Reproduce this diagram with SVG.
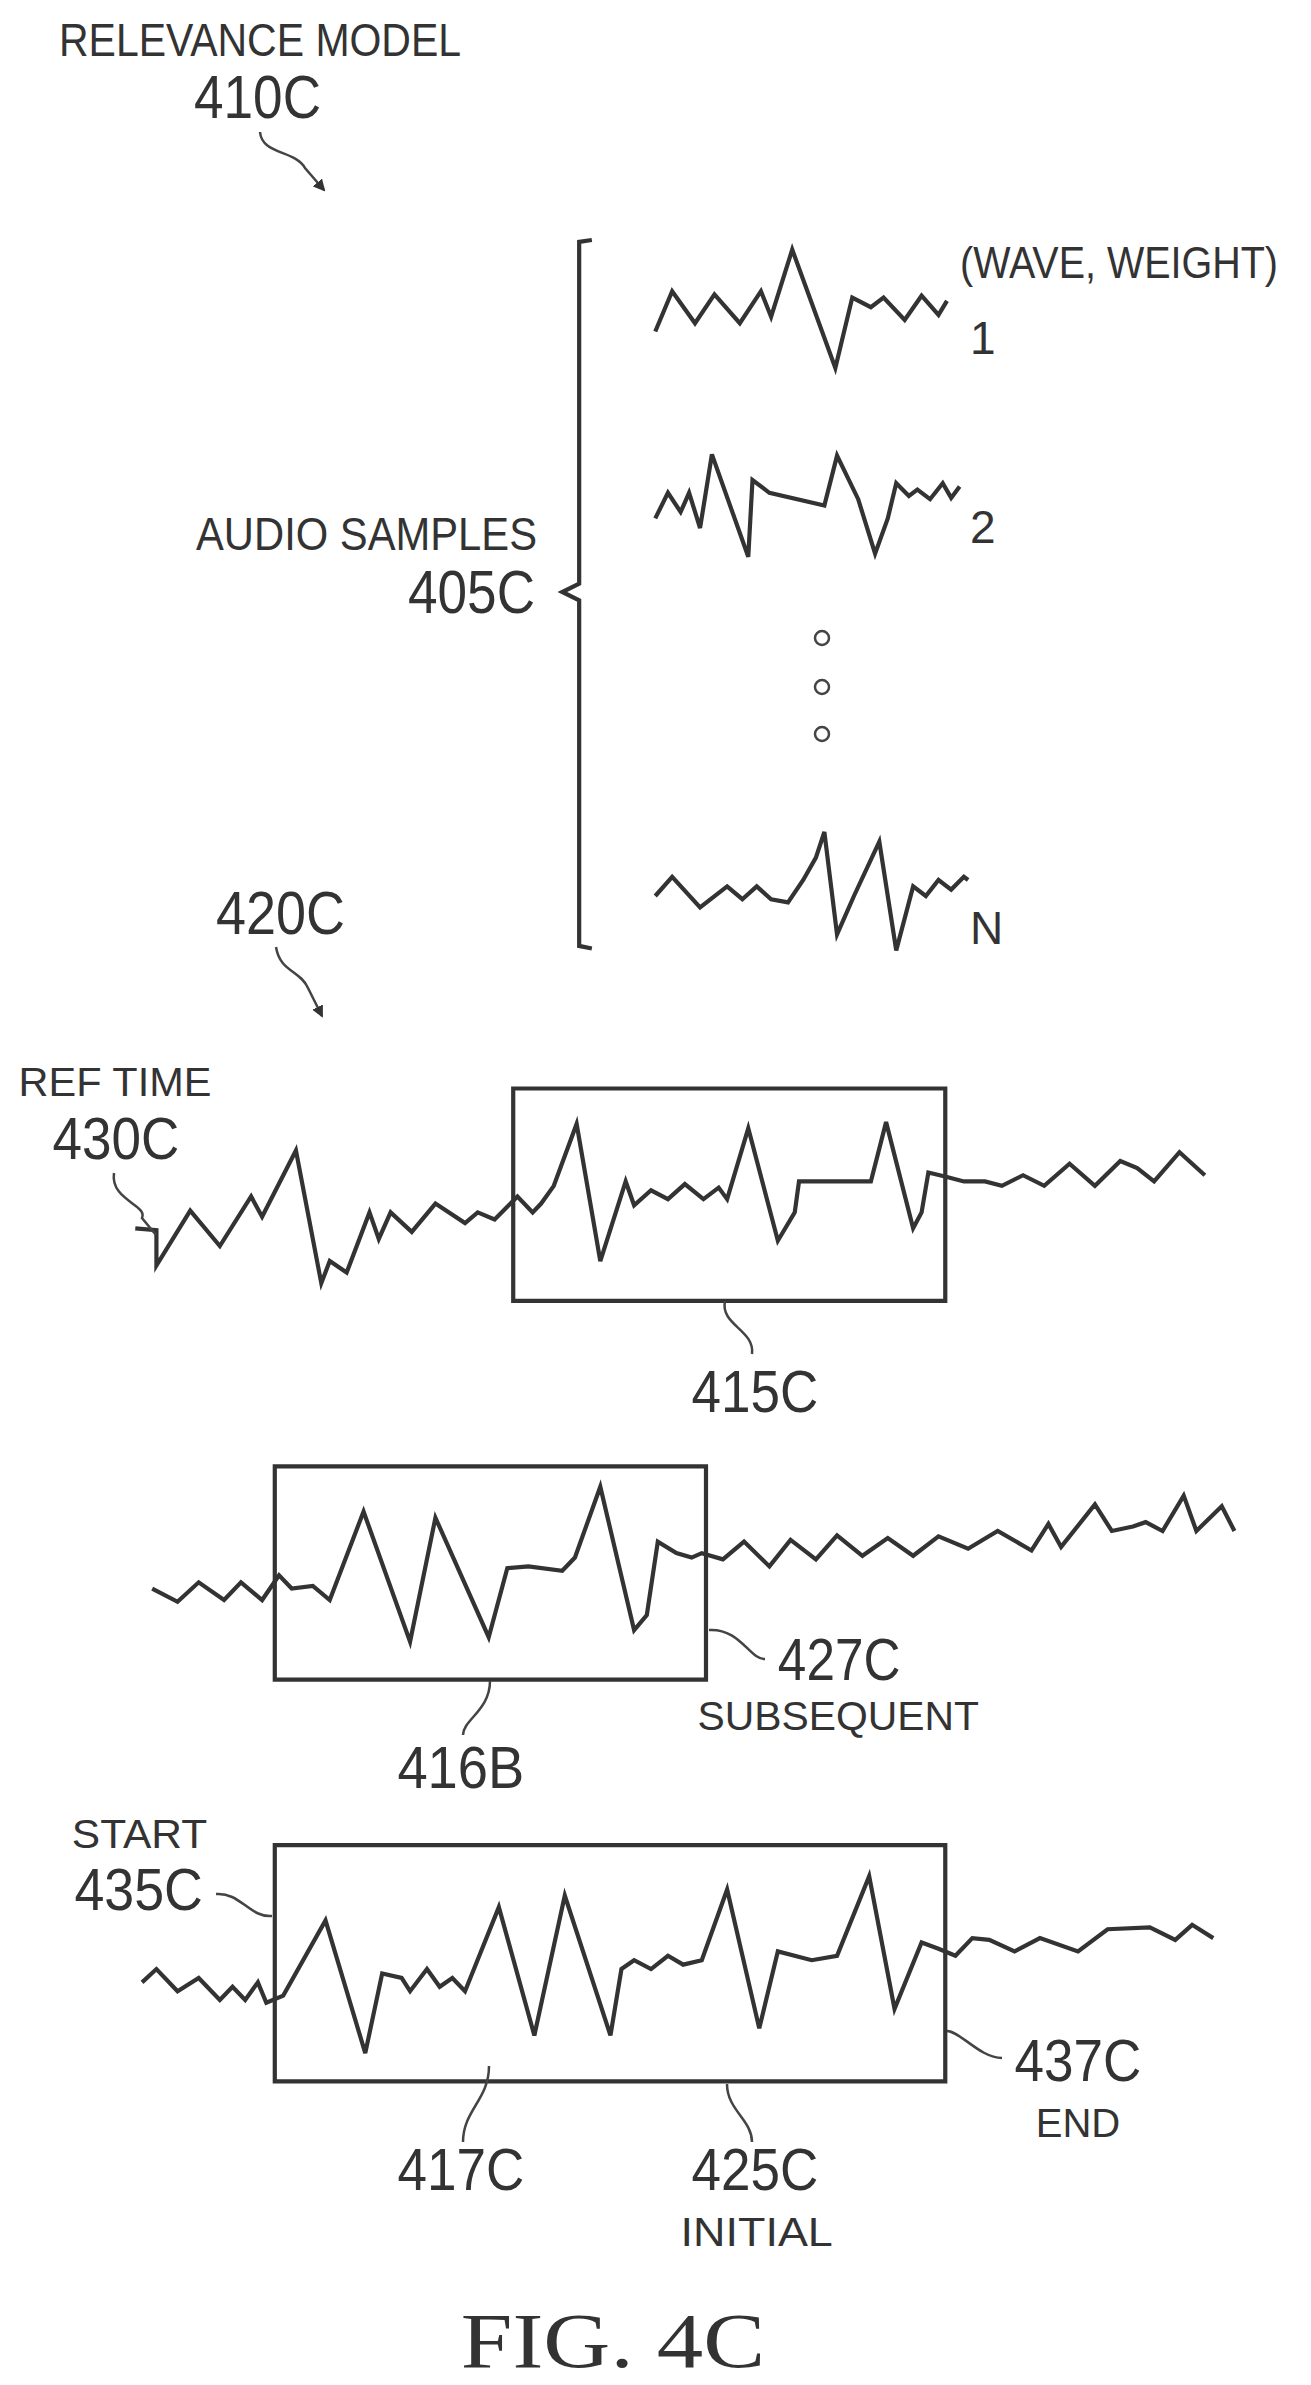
<svg xmlns="http://www.w3.org/2000/svg" width="1311" height="2385" viewBox="0 0 1311 2385">
<style>
.w{fill:none;stroke:#333;stroke-width:4.2;stroke-linejoin:miter;vector-effect:non-scaling-stroke}
.l{fill:none;stroke:#444;stroke-width:2.5}
.t{font-family:"Liberation Sans",Arial,sans-serif;fill:#333}
.f{font-family:"Liberation Serif","Times New Roman",serif;fill:#333}
</style>
<defs><marker id="ah" markerWidth="12" markerHeight="12" refX="10" refY="6" orient="auto" markerUnits="userSpaceOnUse"><path d="M0,0 L12,6 L0,12 z" fill="#333"/></marker></defs>
<rect width="1311" height="2385" fill="#fff"/>
<g id="n410c"><text class="t" x="59" y="56" font-size="46" textLength="402" lengthAdjust="spacingAndGlyphs">RELEVANCE MODEL</text>
<text class="t" x="194" y="118" font-size="62" textLength="127" lengthAdjust="spacingAndGlyphs">410C</text></g>
<g id="n405c"><text class="t" x="196" y="550" font-size="46" textLength="341" lengthAdjust="spacingAndGlyphs">AUDIO SAMPLES</text>
<text class="t" x="408" y="613" font-size="62" textLength="127" lengthAdjust="spacingAndGlyphs">405C</text></g>
<g id="samples">
<text class="t" x="960" y="278" font-size="44" textLength="318" lengthAdjust="spacingAndGlyphs">(WAVE, WEIGHT)</text>
<text class="t" x="970" y="354" font-size="46">1</text>
<text class="t" x="970" y="543" font-size="46">2</text>
<text class="t" x="970" y="944" font-size="46">N</text>
<circle cx="822" cy="638" r="7" class="l"/><circle cx="822" cy="687" r="7" class="l"/><circle cx="822" cy="734" r="7" class="l"/>
<g transform="scale(0.8455,0.64)">
<path class="w" d="M700,375 L685,378 L685,912 L665,925 L685,938 L685,1478 L700,1482"/>
<polyline class="w" points="775,518 795,455 822,505 845,460 875,505 900,455 912,495 937,390 988,575 1008,465 1030,480 1045,465 1070,500 1090,462 1110,492 1120,470"/>
<polyline class="w" points="775,810 790,770 805,800 815,770 828,825 842,710 885,870 890,750 910,770 975,790 990,712 1015,780 1035,865 1050,810 1060,755 1075,775 1085,765 1100,780 1115,755 1125,778 1135,760"/>
<polyline class="w" points="775,1400 795,1370 828,1418 860,1385 878,1405 895,1385 912,1405 932,1410 950,1375 965,1340 975,1300 990,1460 1010,1400 1040,1315 1060,1485 1080,1385 1095,1400 1110,1375 1125,1390 1140,1370 1145,1375"/>
</g></g>
<g id="n420c"><text class="t" x="216" y="934" font-size="62" textLength="129" lengthAdjust="spacingAndGlyphs">420C</text></g>
<g transform="translate(0,1000) scale(0.8455,0.885)">
<g id="ref"><text class="t" x="22" y="108" font-size="46" textLength="228" lengthAdjust="spacingAndGlyphs">REF TIME</text>
<text class="t" x="62" y="180" font-size="66" textLength="150" lengthAdjust="spacingAndGlyphs">430C</text>
<rect x="607" y="100" width="511" height="240" class="w"/>
<polyline class="w" points="160,258 185,260 185,300 225,238 260,278 297,222 310,245 350,170 380,320 390,295 410,308 437,240 448,270 462,240 487,262 515,230 550,252 565,240 585,248 612,222 630,240 640,230 655,210 682,140 710,295 740,205 750,232 770,215 790,225 810,208 832,225 850,212 860,225 885,145 920,272 940,240 945,205 1030,205 1048,138 1080,258 1090,240 1098,195 1120,200 1140,205 1165,205 1185,210 1210,198 1235,210 1265,185 1295,210 1325,182 1345,190 1365,205 1395,172 1425,198"/>
<text class="t" x="818" y="465" font-size="66" textLength="150" lengthAdjust="spacingAndGlyphs">415C</text></g>
<g id="sub"><rect x="325" y="527" width="510" height="241" class="w"/>
<polyline class="w" points="180,665 210,680 235,658 265,678 285,658 310,678 330,650 345,665 370,662 390,678 430,578 485,725 515,585 578,720 600,642 625,640 665,645 680,630 710,550 750,712 765,695 778,612 800,625 818,630 830,625 855,632 880,612 910,640 935,610 965,632 990,605 1020,628 1050,608 1080,628 1110,606 1145,620 1180,600 1220,622 1240,592 1255,618 1295,570 1315,600 1340,595 1355,590 1375,600 1400,560 1415,600 1445,572 1460,600"/>
<text class="t" x="920" y="768" font-size="66" textLength="145" lengthAdjust="spacingAndGlyphs">427C</text>
<text class="t" x="825" y="825" font-size="46" textLength="333" lengthAdjust="spacingAndGlyphs">SUBSEQUENT</text>
<text class="t" x="470" y="890" font-size="66" textLength="150" lengthAdjust="spacingAndGlyphs">416B</text></g>
<g id="init"><rect x="325" y="955" width="793" height="267" class="w"/>
<polyline class="w" points="168,1110 185,1095 210,1120 235,1105 260,1130 275,1115 290,1130 305,1110 315,1133 335,1125 385,1040 432,1190 452,1100 475,1105 485,1120 505,1095 520,1115 535,1105 550,1120 590,1025 632,1170 668,1012 722,1170 735,1095 750,1085 770,1095 790,1080 808,1090 830,1085 860,1005 898,1162 920,1075 960,1085 990,1080 1028,990 1058,1140 1090,1065 1110,1072 1130,1080 1150,1060 1170,1062 1200,1075 1230,1060 1275,1075 1310,1050 1360,1048 1390,1062 1410,1045 1435,1060"/>
<text class="t" x="85" y="958" font-size="46" textLength="160" lengthAdjust="spacingAndGlyphs">START</text>
<text class="t" x="88" y="1028" font-size="66" textLength="152" lengthAdjust="spacingAndGlyphs">435C</text>
<text class="t" x="1200" y="1222" font-size="66" textLength="150" lengthAdjust="spacingAndGlyphs">437C</text>
<text class="t" x="1225" y="1285" font-size="46" textLength="100" lengthAdjust="spacingAndGlyphs">END</text>
<text class="t" x="470" y="1345" font-size="66" textLength="150" lengthAdjust="spacingAndGlyphs">417C</text>
<text class="t" x="818" y="1345" font-size="66" textLength="150" lengthAdjust="spacingAndGlyphs">425C</text>
<text class="t" x="805" y="1408" font-size="46" textLength="180" lengthAdjust="spacingAndGlyphs">INITIAL</text></g>
<text class="f" x="545" y="1545" font-size="88" textLength="360" lengthAdjust="spacingAndGlyphs">FIG. 4C</text>
</g>
<g id="connectors">
<path class="l" marker-end="url(#ah)" d="M260,132 C262,155 295,150 305,168 L324,190"/>
<path class="l" marker-end="url(#ah)" d="M276,947 C280,972 300,970 308,988 L322,1016"/>
<path class="l" d="M114,1173 C110,1200 148,1205 142,1218 L156,1235"/>
<path class="l" d="M725,1301 C720,1325 755,1330 752,1354"/>
<path class="l" d="M709,1630 C740,1628 750,1660 765,1659"/>
<path class="l" d="M490,1681 C490,1710 463,1720 463,1735"/>
<path class="l" d="M216,1894 C240,1892 250,1918 272,1916"/>
<path class="l" d="M947,2031 C960,2031 980,2058 1002,2058"/>
<path class="l" d="M489,2066 C489,2100 463,2110 463,2142"/>
<path class="l" d="M727,2084 C727,2110 752,2120 752,2142"/>
</g>
</svg>
